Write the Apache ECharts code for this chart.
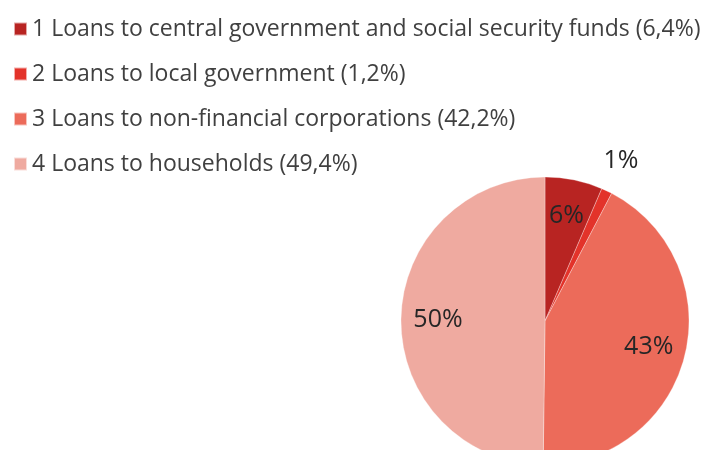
<!DOCTYPE html>
<html>
<head>
<meta charset="utf-8">
<script src="https://cdn.jsdelivr.net/npm/echarts@6/dist/echarts.min.js"></script>
<style>
  html, body { margin: 0; padding: 0; background: #fff; }
  #chart { width: 704px; height: 450px; }
</style>
</head>
<body>
<div id="chart"></div>
<script>
// Loan breakdown by borrower sector (share of total, %)
const categories = [
  'Loans to central government and social security funds',
  'Loans to local government',
  'Loans to non-financial corporations',
  'Loans to households'
];
const shares = [6.4, 1.2, 42.2, 49.4];
const colors = ['#B82422', '#E3332A', '#EC6B5A', '#EFAAA0'];
// slices whose percentage is written outside the pie
const outsideLabel = [false, true, false, false];

const FONT = '"Open Sans", sans-serif';

const legendNames = categories.map((c, i) =>
  `${i + 1} ${c} (${shares[i].toFixed(1).replace('.', ',')}%)`);

const center = [545, 321];
const R = 144;

const baseData = shares.map((v, i) => ({ name: legendNames[i], value: v }));

// transparent ring whose 'inside' labels sit at the ring's mid radius
function labelRing(radius, showFn) {
  return {
    type: 'pie',
    center: center,
    radius: radius,
    startAngle: 90,
    clockwise: true,
    silent: true,
    percentPrecision: 0,
    avoidLabelOverlap: false,
    itemStyle: { color: 'rgba(0,0,0,0)' },
    label: {
      show: true, position: 'inside', formatter: '{d}%',
      fontFamily: FONT, fontSize: 25, color: '#262626'
    },
    labelLine: { show: false },
    emphasis: { disabled: true },
    data: baseData.map((d, i) => ({
      name: d.name, value: d.value,
      itemStyle: { color: 'rgba(0,0,0,0)' },
      label: { show: showFn(i) }
    }))
  };
}

const chart = echarts.init(document.getElementById('chart'), null, { renderer: 'canvas' });
chart.setOption({
  animation: false,
  backgroundColor: '#ffffff',
  legend: {
    orient: 'vertical',
    left: 8,
    top: 10,
    itemWidth: 13,
    itemHeight: 13,
    itemGap: 17,
    icon: 'rect',
    selectedMode: false,
    data: legendNames,
    textStyle: { fontFamily: FONT, fontSize: 23, color: '#404040', lineHeight: 28 }
  },
  series: [
    {
      type: 'pie',
      center: center,
      radius: [0, R],
      startAngle: 90,
      clockwise: true,
      percentPrecision: 0,
      itemStyle: { borderColor: 'rgba(255,255,255,0.6)', borderWidth: 0.5 },
      label: { show: false },
      labelLine: { show: false },
      emphasis: { disabled: true },
      data: baseData.map((d, i) => Object.assign({}, d, { itemStyle: { color: colors[i] } }))
    },
    labelRing([64, R], i => !outsideLabel[i]),
    labelRing([R, 204], i => outsideLabel[i])
  ]
});
</script>
</body>
</html>
